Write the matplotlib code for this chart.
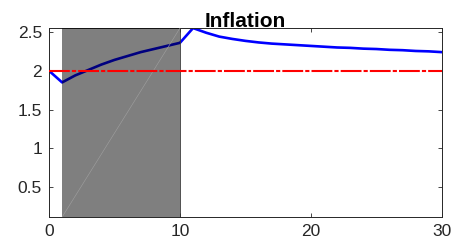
import numpy as np
import matplotlib
matplotlib.use("Agg")
import matplotlib.pyplot as plt

# quarters and inflation path
periods = list(range(0, 31))
inflation = [2.00, 1.85, 1.94, 2.01, 2.08, 2.14, 2.19, 2.24, 2.28, 2.32, 2.36,
             2.55, 2.49, 2.44, 2.41, 2.385, 2.365, 2.35, 2.34, 2.33, 2.32,
             2.31, 2.30, 2.295, 2.285, 2.28, 2.27, 2.265, 2.255, 2.25, 2.24]
target = [2.0] * len(periods)
shade_start, shade_end = 1, 10

plt.rcParams['font.family'] = ['Liberation Sans', 'DejaVu Sans']

fig = plt.figure(figsize=(4.56, 2.42), dpi=100)
ax = fig.add_axes([0.1075, 0.103, 0.8615, 0.781])

ax.plot(periods, inflation, color='#0000ff', lw=1.9, zorder=2)
ax.plot(periods, target, color='#ff0000', lw=1.5, ls=(0, (10, 1, 2, 1)), zorder=4)

ylo, yhi = 0.115, 2.55
ax.axvspan(shade_start, shade_end, color='black', alpha=0.5, lw=0, zorder=3)
ax.plot([shade_start, shade_end], [ylo, yhi], color='#a0a0a0', lw=0.4, zorder=3)
ax.axvline(shade_end, color='#333333', lw=0.6, zorder=3)

ax.set_xlim(0, 30)
ax.set_ylim(ylo, yhi)
ax.set_xticks([0, 10, 20, 30])
ax.set_yticks([0.5, 1, 1.5, 2, 2.5])
ax.set_yticklabels(['0.5', '1', '1.5', '2', '2.5'])
ax.tick_params(direction='in', length=3, width=0.6, top=True, right=True,
               labelsize=12.5, colors='#262626')
ax.tick_params(axis='x', pad=5)
ax.tick_params(axis='y', pad=5)
for s in ax.spines.values():
    s.set_linewidth(0.7)
    s.set_color('#262626')
ax.set_title('Inflation', fontsize=15, fontweight='bold', pad=1)

fig.savefig('out.png', dpi=100)
